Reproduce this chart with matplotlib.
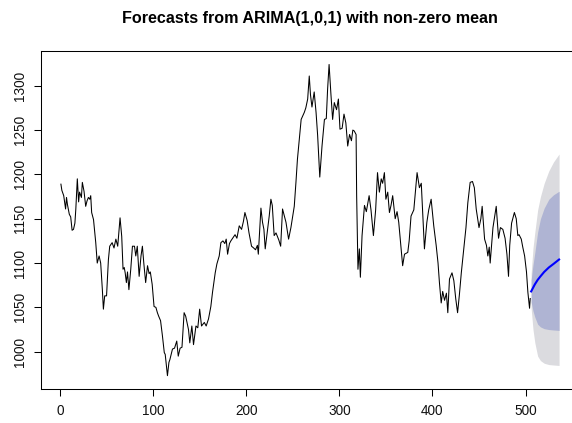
import matplotlib
matplotlib.use("Agg")
import matplotlib.pyplot as plt

t_obs = [1, 2, 4, 6, 7, 8, 10, 11.5, 13, 14.5, 16, 17, 18.6, 20, 21, 23, 24, 25.8, 27.6, 29,
         30.5, 32, 33, 34, 36, 38.4, 40, 42, 43.7, 45.5, 46.6, 48, 50, 52, 53.4, 56, 58, 60, 62,
         64.5, 66.3, 67.7, 69, 70, 71.3, 72.5, 74, 76, 77.8, 80, 81.4, 83, 85, 87, 88.5, 90, 92,
         94, 95.7, 97, 99, 101, 103, 104.6, 106, 108, 110, 112, 113, 115.4, 117, 118, 120.8, 123,
         125.4, 127, 129, 131, 133.3, 135, 138, 139.4, 141.6, 143.4, 146, 148, 150, 152, 155, 157,
         159.5, 162, 163.8, 166.7, 168.5, 171, 172.8, 175, 177, 178.5, 180, 182, 183.5, 186, 188,
         190, 192.5, 195, 197, 198.6, 201, 203, 205.7, 208, 210, 212, 213, 215.8, 217.5, 219,
         220.4, 222, 224.7, 226.5, 228, 230, 232, 235, 237, 239, 242.7, 245.5, 248, 251.6, 253.4,
         255, 257, 259, 262.4, 264, 266, 267.7, 269, 270.6, 273, 275, 276.7, 279, 281.4, 284, 286,
         287.4, 289, 291, 292.8, 294.6, 297, 299, 300.7, 303, 305, 307, 309, 311, 313, 314.5, 316,
         318, 318.6, 320, 321.5, 322.6, 324.4, 327, 329, 332, 334, 336.6, 339, 341, 343, 345,
         346.5, 348.4, 350, 352, 353.8, 355.5, 357.3, 360, 362, 363.8, 366, 368, 370, 373.5, 375,
         377, 380, 383.5, 386, 388, 391.4, 394, 396, 398.6, 401.4, 404, 406, 407.5, 409.4, 411,
         413, 415, 416.5, 418.3, 421, 423, 425, 427, 429, 431, 434.4, 436, 438, 440.5, 443, 445,
         447, 450, 452, 453.4, 456, 458, 459.5, 461, 462, 465, 468.5, 471, 473, 475.6, 478, 480,
         481.7, 483, 485, 488, 490, 491.7, 493, 495.4, 497, 499, 501, 502.5, 504.3, 505]
y_obs = [1189, 1182, 1176, 1161, 1174, 1166, 1155, 1152, 1137, 1138, 1145, 1161, 1195, 1169, 1180,
         1174, 1191, 1181, 1164, 1170, 1174, 1172, 1176, 1157, 1149, 1123, 1100, 1108, 1100, 1070,
         1048, 1063, 1063, 1104, 1119, 1123, 1117, 1127, 1119, 1151, 1130, 1093, 1095, 1089, 1078,
         1090, 1070, 1093, 1119, 1119, 1108, 1119, 1085, 1108, 1119, 1100, 1078, 1097, 1088, 1090,
         1076, 1051, 1050, 1044, 1040, 1035, 1018, 999, 997, 973, 988, 991, 1003, 1004, 1012, 995,
         1004, 1005, 1044, 1040, 1025, 1010, 1029, 1008, 1029, 1027, 1048, 1029, 1033, 1029, 1037,
         1051, 1067, 1089, 1099, 1108, 1123, 1125, 1122, 1127, 1110, 1122, 1125, 1129, 1132, 1128,
         1142, 1138, 1147, 1157, 1148, 1134, 1119, 1117, 1115, 1120, 1110, 1162, 1146, 1138, 1116,
         1130, 1153, 1172, 1165, 1131, 1134, 1126, 1119, 1161, 1146, 1127, 1140, 1164, 1191, 1217,
         1240, 1262, 1270, 1275, 1285, 1311, 1290, 1276, 1293, 1270, 1244, 1197, 1232, 1262, 1263,
         1296, 1324, 1290, 1262, 1281, 1273, 1285, 1251, 1252, 1268, 1258, 1232, 1245, 1238, 1250,
         1249, 1245, 1176, 1093, 1116, 1084, 1131, 1165, 1158, 1176, 1160, 1131, 1160, 1202, 1180,
         1195, 1190, 1202, 1172, 1180, 1157, 1165, 1176, 1150, 1158, 1146, 1120, 1097, 1110, 1112,
         1125, 1153, 1160, 1202, 1185, 1190, 1116, 1146, 1160, 1172, 1142, 1120, 1100, 1078, 1055,
         1068, 1058, 1066, 1044, 1082, 1089, 1080, 1060, 1044, 1065, 1089, 1123, 1140, 1168, 1191,
         1192, 1185, 1161, 1140, 1150, 1164, 1127, 1120, 1108, 1118, 1100, 1140, 1164, 1128, 1140,
         1138, 1128, 1110, 1085, 1120, 1145, 1157, 1150, 1131, 1132, 1127, 1118, 1108, 1090, 1067,
         1049, 1060]

# ---- forecast (time index, mean, 80% and 95% bounds) ----
t_fc = [506, 508, 510, 513, 516, 520, 525, 530, 536]
fc_mean = [1068, 1072, 1076, 1081, 1085, 1090, 1095, 1099, 1104]
lo80 = [1056, 1046, 1039, 1031, 1028, 1026, 1025, 1024.5, 1024]
hi80 = [1081, 1098, 1112, 1135, 1150, 1162, 1172, 1177, 1181]
lo95 = [1049, 1025, 1010, 995, 990, 987, 985.5, 985, 984.5]
hi95 = [1088, 1117, 1135, 1160, 1175, 1190, 1204, 1214, 1223]

title = "Forecasts from ARIMA(1,0,1) with non-zero mean"
x_ticks = [0, 100, 200, 300, 400, 500]
y_ticks = [1000, 1050, 1100, 1150, 1200, 1250, 1300]

plt.rcParams['font.family'] = ['Liberation Sans', 'DejaVu Sans']

W, H = 572, 423
fig = plt.figure(figsize=(W / 100, H / 100), dpi=100)
left, right, top, bottom = 41.0, 579.0, 51.0, 388.5
ax = fig.add_axes([left / W, 1 - bottom / H, (right - left) / W, (bottom - top) / H])

ax.fill_between(t_fc, lo95, hi95, color='#DBDBDF', linewidth=0)
ax.fill_between(t_fc, lo80, hi80, color='#AFB4D3', linewidth=0)
ax.plot(t_obs, y_obs, color='black', linewidth=0.75)
ax.plot(t_fc, fc_mean, color='#0000FF', linewidth=1.5)

ax.set_xlim(-20.4, 557.4)
ax.set_ylim(958.5, 1339.2)
ax.set_xticks(x_ticks)
ax.set_yticks(y_ticks)
ax.set_xticklabels([str(v) for v in x_ticks])
ax.set_yticklabels([str(v) for v in y_ticks], rotation=90, va='center')
ax.tick_params(axis='both', direction='out', length=5, width=0.75, colors='black',
               labelsize=9.8, labelcolor='#111111')
ax.tick_params(axis='x', pad=6)
ax.tick_params(axis='y', pad=4.8)
for s in ax.spines.values():
    s.set_linewidth(0.75)
    s.set_color('black')

fig.text((left + right) / 2 / W, 1 - 18 / H, title, ha='center', va='center',
         fontsize=11.6, fontweight='bold')

fig.savefig('out.png', dpi=100)
